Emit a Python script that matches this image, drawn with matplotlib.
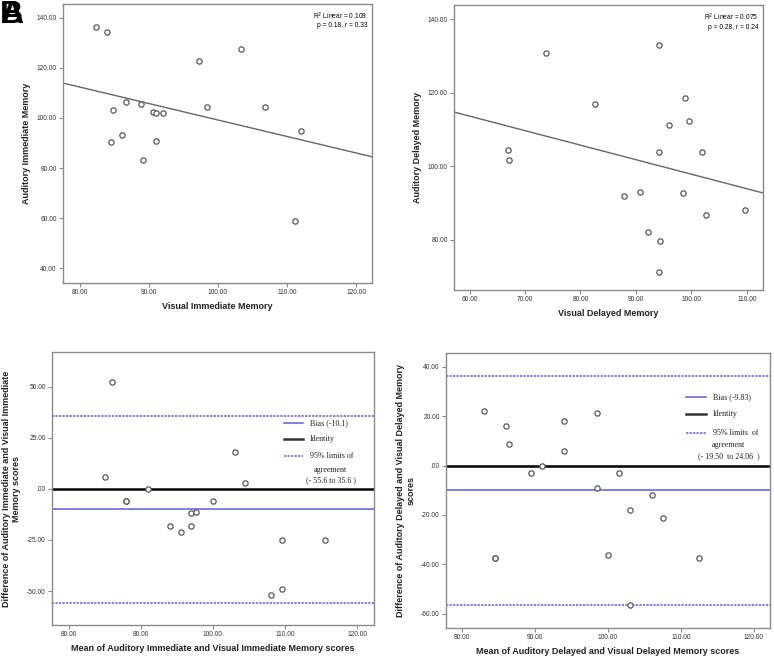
import numpy as np
import matplotlib.pyplot as plt

# --- data ---
# A: visual vs auditory immediate memory
vis_imm = [82.4, 84.0, 103.3, 97.3, 86.7, 88.9, 84.9, 90.6, 91.1, 92.1,
           98.5, 106.8, 86.2, 84.5, 91.1, 112.0, 89.2, 111.1]
aud_imm = [136.4, 134.5, 127.8, 123.0, 106.3, 105.8, 103.2, 102.6, 102.0, 102.2,
           104.6, 104.4, 93.2, 90.4, 90.9, 94.8, 83.4, 58.9]

# B: visual vs auditory delayed memory
vis_del = [73.8, 94.2, 82.7, 98.8, 96.0, 99.6, 66.9, 67.1, 94.1, 101.9,
           87.8, 90.8, 98.5, 102.7, 109.6, 92.2, 94.4, 94.1]
aud_del = [130.7, 133.0, 116.9, 118.6, 111.1, 112.4, 104.4, 101.8, 103.9, 103.9,
           92.0, 92.9, 92.6, 86.8, 88.1, 82.2, 79.6, 71.2]

# C: Bland-Altman immediate
ba_imm_mean = [86.0, 85.0, 91.0, 88.0, 88.0, 100.0, 103.0, 104.5, 97.0, 97.6,
               94.0, 95.5, 97.0, 109.5, 115.5, 109.5, 108.0]
ba_imm_diff = [52.1, 6.0, 0.0, -6.0, -6.0, -6.0, 18.1, 2.9, -11.9, -11.1,
               -18.1, -21.0, -18.1, -25.1, -25.1, -49.2, -52.1]
imm_bias = -10.1
imm_limits = [-55.6, 35.6]
imm_keys = ['Bias (-10.1)', 'Identity', '95% limits of', 'agreement', '(- 55.6 to 35.6 )']

# D: Bland-Altman delayed
ba_del_mean = [83.0, 86.0, 86.5, 94.0, 94.0, 98.5, 89.5, 91.0, 101.5, 98.5,
               106.0, 103.0, 107.5, 84.5, 84.5, 100.0, 112.5, 103.0]
ba_del_diff = [22.0, 15.9, 8.9, 18.0, 5.9, 21.1, -3.1, 0.0, -3.1, -9.2,
               -12.0, -18.1, -21.1, -37.2, -37.2, -36.2, -37.2, -56.2]
del_bias = -10.0
del_limits = [-56.2, 36.3]
del_keys = ['Bias (-9.83)', 'Identity', '95% limits  of', 'agreement', '(- 19.50  to 24.06  )']

frame_col = '#8a8a8a'
pt_col = '#555555'
blue = '#5c5cd6'
dots = (0, (1.5, 0.8))

plt.rcParams['font.family'] = ['Liberation Sans', 'DejaVu Sans']

fig = plt.figure(figsize=(7.74, 6.65), dpi=100)


def style_axes(ax, xticks, yticks, xlab, ylab):
    for s in ax.spines.values():
        s.set_color(frame_col)
        s.set_linewidth(1.0)
    ax.set_xticks(xticks)
    ax.set_yticks(yticks)
    ax.set_xticklabels(['%.2f' % v for v in xticks])
    ax.set_yticklabels(['.00' if v == 0 else '%.2f' % v for v in yticks])
    ax.tick_params(direction='out', length=3, width=0.8, color=frame_col,
                   labelsize=4.8, labelcolor='#333333', pad=1.5)
    ax.set_xlabel(xlab, fontsize=6.5, fontweight='bold', color='#222222', labelpad=4)
    ax.set_ylabel(ylab, fontsize=6.5, fontweight='bold', color='#222222', labelpad=4)


def scatter_fit(ax, x, y, xlim, ylim, r2txt, ptxt):
    ax.plot(x, y, 'o', mfc='white', mec=pt_col, ms=3.8, mew=0.9, ls='none', zorder=3)
    k, b = np.polyfit(x, y, 1)
    xx = np.array(xlim)
    ax.plot(xx, k * xx + b, color='#666666', lw=1.0, zorder=2)
    ax.set_xlim(*xlim)
    ax.set_ylim(*ylim)
    ax.text(0.985, 0.975, r2txt, transform=ax.transAxes, ha='right', va='top', fontsize=4.8)
    ax.text(0.985, 0.935, ptxt, transform=ax.transAxes, ha='right', va='top', fontsize=4.8)


def bland_altman(ax, m, d, bias, limits, xlim, ylim):
    ax.axhline(0, color='black', lw=1.8, zorder=2)
    ax.axhline(bias, color=blue, lw=1.1, zorder=2)
    for lv in limits:
        ax.axhline(lv, color=blue, lw=1.1, ls=dots, zorder=2)
    ax.plot(m, d, 'o', mfc='white', mec=pt_col, ms=3.8, mew=0.9, ls='none', zorder=3)
    ax.set_xlim(*xlim)
    ax.set_ylim(*ylim)


def key(ax, labels, hx, tx, ys, cx):
    # hand-made legend, SPSS style: short line samples + serif labels
    serif = {'family': 'Liberation Serif', 'size': 5.8, 'color': '#222222'}
    styles = [dict(color=blue, lw=1.1), dict(color='#333333', lw=1.8),
              dict(color=blue, lw=1.1, ls=dots)]
    for lab, y, st in zip(labels[:3], ys[:3], styles):
        ax.plot(hx, [y, y], transform=ax.transAxes, **st)
        ax.text(tx, y, lab, transform=ax.transAxes, ha='left', va='center', **serif)
    for lab, y in zip(labels[3:], ys[3:]):
        ax.text(cx, y, lab, transform=ax.transAxes, ha='center', va='center', **serif)


# A
axA = fig.add_axes([63 / 774, 1 - 283 / 665, 309 / 774, 279 / 665])
scatter_fit(axA, vis_imm, aud_imm, (77.6, 122.3), (34, 145.6),
            r'R$^2$ Linear = 0.109', 'p = 0.18, r = 0.33')
style_axes(axA, [80, 90, 100, 110, 120], [40, 60, 80, 100, 120, 140],
           'Visual Immediate Memory', 'Auditory Immediate Memory')

# B
axB = fig.add_axes([454 / 774, 1 - 290 / 665, 309 / 774, 285 / 665])
scatter_fit(axB, vis_del, aud_del, (57.2, 112.9), (66.3, 143.9),
            r'R$^2$ Linear = 0.075', 'p = 0.28, r = 0.24')
style_axes(axB, [60, 70, 80, 90, 100, 110], [80, 100, 120, 140],
           'Visual Delayed Memory', 'Auditory Delayed Memory')

# C
axC = fig.add_axes([52 / 774, 1 - 625 / 665, 322 / 774, 273 / 665])
bland_altman(axC, ba_imm_mean, ba_imm_diff, imm_bias, imm_limits,
             (77.7, 122.3), (-66.6, 66.9))
key(axC, imm_keys, [0.720, 0.780], 0.801, [0.740, 0.683, 0.618, 0.568, 0.530], 0.865)
style_axes(axC, [80, 90, 100, 110, 120], [-50, -25, 0, 25, 50],
           'Mean of Auditory Immediate and Visual Immediate Memory scores',
           'Difference of Auditory Immediate and Visual Immediate\nMemory scores')

# D
axD = fig.add_axes([446 / 774, 1 - 628 / 665, 324 / 774, 275 / 665])
bland_altman(axD, ba_del_mean, ba_del_diff, del_bias, del_limits,
             (77.8, 122.2), (-65.7, 45.5))
key(axD, del_keys, [0.741, 0.802], 0.824, [0.840, 0.778, 0.709, 0.665, 0.625], 0.873)
style_axes(axD, [80, 90, 100, 110, 120], [-60, -40, -20, 0, 20, 40],
           'Mean of Auditory Delayed and Visual Delayed Memory scores',
           'Difference of Auditory Delayed and Visual Delayed Memory\nscores')

# overlapping panel letters
fig.text(0.0, 1.0, 'A', fontsize=23, fontweight='bold', va='top', ha='left')
fig.text(0.0, 1.0, 'B', fontsize=23, fontweight='bold', va='top', ha='left')

fig.savefig('out.png', dpi=100)
